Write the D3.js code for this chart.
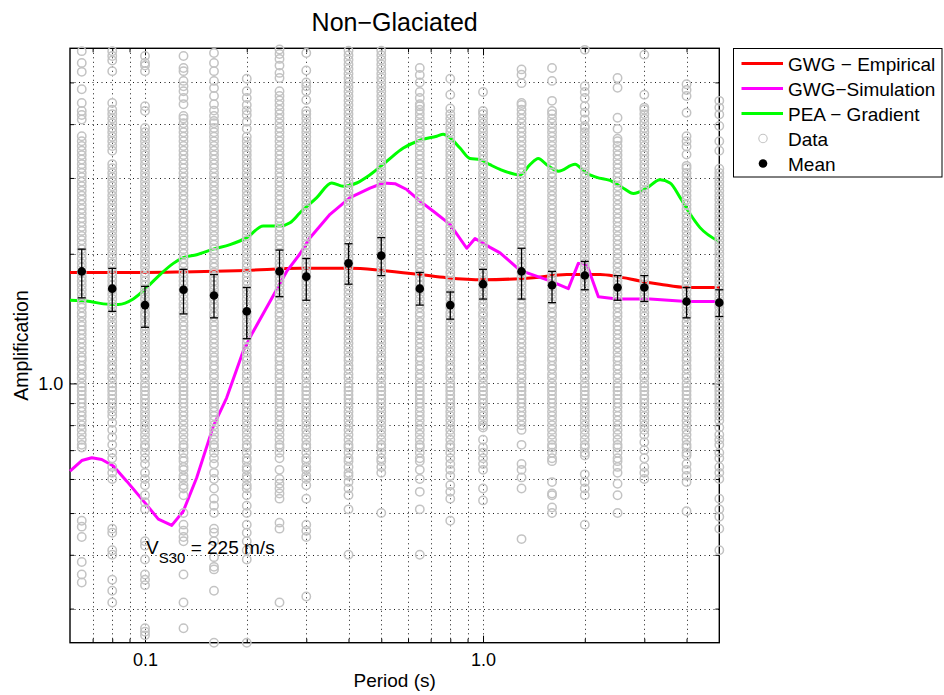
<!DOCTYPE html>
<html><head><meta charset="utf-8">
<script src="https://cdn.jsdelivr.net/npm/d3@7"></script>
<style>
body{margin:0;background:#fff;}
svg{display:block;font-family:"Liberation Sans",Arial,Helvetica,sans-serif;}
</style>
</head><body>
<svg id="chart" width="944" height="695"></svg>
<script>
// ---------- DATA ----------
const periods = [0.065,0.08,0.1,0.13,0.16,0.2,0.25,0.3,0.4,0.5,0.65,0.8,1.0,1.3,1.6,2.0,2.5,3.0,4.0,5.0];
const meanAmp = [1.82,1.66,1.52,1.65,1.60,1.47,1.82,1.77,1.90,1.98,1.66,1.52,1.70,1.82,1.69,1.78,1.67,1.67,1.55,1.54];
const errLow  = [1.58,1.47,1.35,1.45,1.42,1.27,1.59,1.56,1.70,1.78,1.52,1.41,1.57,1.57,1.54,1.65,1.56,1.55,1.42,1.43];
const errHigh = [2.05,1.85,1.68,1.84,1.79,1.67,2.04,1.95,2.11,2.18,1.81,1.63,1.84,2.06,1.82,1.92,1.78,1.78,1.67,1.65];

const empPeriod = [0.06,0.1,0.13,0.2,0.2875,0.404,0.5,0.651,0.78,1.0,1.41,1.77,2.22,2.5,2.91,3.34,4.0,5.0];
const empAmp    = [1.81,1.81,1.815,1.83,1.85,1.85,1.83,1.79,1.76,1.74,1.76,1.79,1.79,1.77,1.73,1.70,1.67,1.67];

const simPeriod = [0.06,0.065,0.0696,0.0745,0.0806,0.0883,0.1,0.1095,0.12,0.1298,0.1422,0.1593,0.1744,0.1953,0.2068,0.2343,0.2625,0.2875,0.3078,0.3527,0.404,0.4631,0.507,0.549,0.5947,0.651,0.7129,0.7989,0.895,0.947,1.049,1.123,1.287,1.578,1.788,1.914,2.027,2.194,2.487,3.12,4.005,4.97];
const simAmp    = [0.626,0.662,0.672,0.666,0.643,0.593,0.528,0.484,0.468,0.505,0.604,0.796,0.926,1.19,1.30,1.55,1.82,2.0,2.18,2.47,2.70,2.84,2.92,2.91,2.82,2.65,2.51,2.34,2.06,2.17,2.07,2.01,1.83,1.73,1.66,1.90,1.89,1.59,1.57,1.57,1.55,1.55];

const peaPeriod = [0.06,0.0688,0.0753,0.0834,0.0923,0.1012,0.1108,0.1213,0.1298,0.1422,0.1593,0.1785,0.2,0.2239,0.2507,0.2685,0.2875,0.3222,0.3567,0.3861,0.4229,0.4631,0.519,0.581,0.651,0.7295,0.763,0.7989,0.855,0.915,0.98,1.049,1.123,1.287,1.377,1.457,1.543,1.671,1.872,2.003,2.17,2.375,2.601,2.785,3.05,3.34,3.575,3.83,4.05,4.385,4.97];
const peaAmp    = [1.56,1.55,1.53,1.525,1.57,1.67,1.79,1.90,1.96,1.99,2.05,2.10,2.18,2.32,2.32,2.36,2.49,2.70,2.92,2.87,2.92,3.05,3.28,3.52,3.67,3.75,3.79,3.72,3.52,3.33,3.31,3.22,3.14,3.05,3.22,3.33,3.22,3.11,3.23,3.09,3.01,2.96,2.84,2.76,2.84,2.97,2.92,2.70,2.51,2.30,2.14];

// observed amplifications, one array per period column
const amp_T0065 = [0.345,0.36,0.385,0.44,0.465,0.48,0.71,0.72,0.74,0.76,0.78,0.80,0.82,0.84,0.86,0.88,0.90,0.92,0.94,0.96,0.98,1.00,1.03,1.05,1.08,1.10,1.13,1.15,1.18,1.21,1.24,1.27,1.30,1.33,1.36,1.39,1.43,1.46,1.50,1.53,1.57,1.61,1.65,1.69,1.73,1.77,1.81,1.86,1.90,1.95,2.00,2.05,2.10,2.15,2.20,2.26,2.31,2.37,2.42,2.48,2.54,2.60,2.67,2.73,2.80,2.87,2.94,3.01,3.08,3.16,3.23,3.31,3.39,3.47,3.56,3.65,3.75,4.10,4.20,4.29,4.48,4.82,5.29,5.55,5.91];
const amp_T008 = [0.31,0.33,0.35,0.40,0.41,0.45,0.46,0.60,0.62,0.64,0.67,0.69,0.72,0.75,0.78,0.81,0.84,0.86,0.88,0.90,0.92,0.94,0.96,0.98,1.00,1.03,1.05,1.08,1.10,1.13,1.15,1.18,1.21,1.24,1.27,1.30,1.33,1.36,1.39,1.43,1.46,1.50,1.53,1.57,1.61,1.65,1.69,1.73,1.77,1.81,1.86,1.90,1.95,2.00,2.05,2.10,2.15,2.20,2.26,2.31,2.37,2.42,2.48,2.54,2.60,2.67,2.73,2.80,2.87,2.94,3.01,3.08,3.16,3.23,3.47,3.56,3.65,3.74,3.83,3.92,4.02,4.12,4.22,4.32,4.48,5.31,5.62,5.76,5.91];
const amp_T010 = [0.26,0.265,0.27,0.34,0.35,0.36,0.39,0.42,0.43,0.51,0.53,0.55,0.58,0.60,0.62,0.65,0.67,0.69,0.71,0.72,0.74,0.76,0.78,0.80,0.82,0.84,0.86,0.88,0.90,0.92,0.94,0.96,0.98,1.00,1.03,1.05,1.08,1.10,1.13,1.15,1.18,1.21,1.24,1.27,1.30,1.33,1.36,1.39,1.43,1.46,1.50,1.53,1.57,1.61,1.65,1.69,1.73,1.77,1.81,1.86,1.90,1.95,2.00,2.05,2.10,2.15,2.20,2.26,2.31,2.37,2.42,2.48,2.54,2.60,2.67,2.73,2.80,2.87,2.94,3.01,3.08,3.16,3.23,3.31,3.39,3.47,3.56,3.65,3.74,3.83,3.92,4.29,4.40,5.31,5.47,5.55,5.76];
const amp_T013 = [0.27,0.31,0.36,0.43,0.44,0.455,0.47,0.50,0.55,0.57,0.58,0.60,0.61,0.63,0.64,0.66,0.67,0.69,0.71,0.72,0.74,0.76,0.78,0.80,0.82,0.84,0.86,0.88,0.90,0.92,0.94,0.96,0.98,1.00,1.03,1.05,1.08,1.10,1.13,1.15,1.18,1.21,1.24,1.27,1.30,1.33,1.36,1.39,1.43,1.46,1.50,1.53,1.57,1.61,1.65,1.69,1.73,1.77,1.81,1.86,1.90,1.95,2.00,2.05,2.10,2.15,2.20,2.26,2.31,2.37,2.42,2.48,2.54,2.60,2.67,2.73,2.80,2.87,2.94,3.01,3.08,3.16,3.23,3.31,3.39,3.47,3.56,3.65,3.74,3.83,3.92,4.02,4.12,4.18,4.45,4.60,4.77,4.90,5.04,5.31,5.40,5.76];
const amp_T016 = [0.25,0.33,0.37,0.375,0.395,0.43,0.45,0.46,0.50,0.52,0.54,0.57,0.60,0.62,0.65,0.67,0.69,0.71,0.72,0.74,0.76,0.78,0.80,0.82,0.84,0.86,0.88,0.90,0.92,0.94,0.96,0.98,1.00,1.03,1.05,1.08,1.10,1.13,1.15,1.18,1.21,1.24,1.27,1.30,1.33,1.36,1.39,1.43,1.46,1.50,1.53,1.57,1.61,1.65,1.69,1.73,1.77,1.81,1.86,1.90,1.95,2.00,2.05,2.10,2.15,2.20,2.26,2.31,2.37,2.42,2.48,2.54,2.60,2.67,2.73,2.80,2.87,2.94,3.01,3.08,3.16,3.23,3.31,3.39,3.47,3.56,3.65,3.74,3.83,3.92,4.02,4.07,4.18,4.30,4.45,4.65,4.85,5.04,5.31,5.55,5.85];
const amp_T020 = [0.25,0.39,0.41,0.43,0.45,0.47,0.50,0.52,0.55,0.57,0.58,0.60,0.61,0.63,0.64,0.66,0.67,0.69,0.71,0.72,0.74,0.76,0.78,0.80,0.82,0.84,0.86,0.88,0.90,0.92,0.94,0.96,0.98,1.00,1.03,1.05,1.08,1.10,1.13,1.15,1.18,1.21,1.24,1.27,1.30,1.33,1.36,1.39,1.43,1.46,1.50,1.53,1.57,1.61,1.65,1.69,1.73,1.77,1.81,1.86,1.90,1.95,2.00,2.05,2.10,2.15,2.20,2.26,2.31,2.37,2.42,2.48,2.54,2.60,2.67,2.73,2.80,2.87,2.94,3.01,3.08,3.16,3.23,3.31,3.39,3.47,3.56,3.65,3.74,3.90,4.05,4.20,4.30,4.43,4.60,4.77,5.10];
const amp_T025 = [0.31,0.46,0.475,0.54,0.555,0.57,0.585,0.60,0.63,0.67,0.69,0.71,0.72,0.74,0.76,0.78,0.80,0.82,0.84,0.86,0.88,0.90,0.92,0.94,0.96,0.98,1.00,1.03,1.05,1.08,1.10,1.13,1.15,1.18,1.21,1.24,1.27,1.30,1.33,1.36,1.39,1.43,1.46,1.50,1.53,1.57,1.61,1.65,1.69,1.73,1.77,1.81,1.86,1.90,1.95,2.00,2.05,2.10,2.15,2.20,2.26,2.31,2.37,2.42,2.48,2.54,2.60,2.67,2.73,2.80,2.87,2.94,3.01,3.08,3.16,3.23,3.31,3.39,3.47,3.56,3.65,3.74,3.83,3.92,4.02,4.12,4.22,4.32,4.43,4.54,4.65,4.77,5.12,5.26,5.47,5.67,5.82,5.96];
const amp_T030 = [0.32,0.44,0.455,0.47,0.54,0.58,0.60,0.61,0.63,0.64,0.66,0.67,0.69,0.71,0.72,0.74,0.76,0.78,0.80,0.82,0.84,0.86,0.88,0.90,0.92,0.94,0.96,0.98,1.00,1.03,1.05,1.08,1.10,1.13,1.15,1.18,1.21,1.24,1.27,1.30,1.33,1.36,1.39,1.43,1.46,1.50,1.53,1.57,1.61,1.65,1.69,1.73,1.77,1.81,1.86,1.90,1.95,2.00,2.05,2.10,2.15,2.20,2.26,2.31,2.37,2.42,2.48,2.54,2.60,2.67,2.73,2.80,2.87,2.94,3.01,3.08,3.16,3.23,3.31,3.39,3.47,3.56,3.65,3.74,3.83,3.92,4.02,4.12,4.22,4.29,4.55,4.77,4.90,5.00,5.33,5.85];
const amp_T040 = [0.40,0.51,0.55,0.57,0.59,0.61,0.62,0.64,0.66,0.67,0.69,0.71,0.72,0.74,0.76,0.78,0.80,0.82,0.84,0.86,0.88,0.90,0.92,0.94,0.96,0.98,1.00,1.03,1.05,1.08,1.10,1.13,1.15,1.18,1.21,1.24,1.27,1.30,1.33,1.36,1.39,1.43,1.46,1.50,1.53,1.57,1.61,1.65,1.69,1.73,1.77,1.81,1.86,1.90,1.95,2.00,2.05,2.10,2.15,2.20,2.26,2.31,2.37,2.42,2.48,2.54,2.60,2.67,2.73,2.80,2.87,2.94,3.01,3.08,3.16,3.23,3.31,3.39,3.47,3.56,3.65,3.74,3.83,3.92,4.02,4.12,4.22,4.32,4.43,4.54,4.65,4.76,4.88,5.00,5.12,5.24,5.37,5.50,5.64,5.78,5.92];
const amp_T050 = [0.50,0.62,0.64,0.66,0.67,0.69,0.71,0.72,0.74,0.76,0.78,0.80,0.82,0.84,0.86,0.88,0.90,0.92,0.94,0.96,0.98,1.00,1.03,1.05,1.08,1.10,1.13,1.15,1.18,1.21,1.24,1.27,1.30,1.33,1.36,1.39,1.43,1.46,1.50,1.53,1.57,1.61,1.65,1.69,1.73,1.77,1.81,1.86,1.90,1.95,2.00,2.05,2.10,2.15,2.20,2.26,2.31,2.37,2.42,2.48,2.54,2.60,2.67,2.73,2.80,2.87,2.94,3.01,3.08,3.16,3.23,3.31,3.39,3.47,3.56,3.65,3.74,3.83,3.92,4.02,4.12,4.22,4.32,4.43,4.54,4.65,4.76,4.88,5.00,5.12,5.24,5.37,5.50,5.64,5.78,5.92];
const amp_T065 = [0.40,0.51,0.56,0.60,0.63,0.66,0.67,0.69,0.71,0.72,0.74,0.76,0.78,0.80,0.82,0.84,0.86,0.88,0.90,0.92,0.94,0.96,0.98,1.00,1.03,1.05,1.08,1.10,1.13,1.15,1.18,1.21,1.24,1.27,1.30,1.33,1.36,1.39,1.43,1.46,1.50,1.53,1.57,1.61,1.65,1.69,1.73,1.77,1.81,1.86,1.90,1.95,2.00,2.05,2.10,2.15,2.20,2.26,2.31,2.37,2.42,2.48,2.54,2.60,2.67,2.73,2.80,2.87,2.94,3.01,3.08,3.16,3.23,3.31,3.39,3.47,3.56,3.65,3.74,3.83,3.92,4.02,4.12,4.22,4.32,4.40,4.45,4.60,4.75,5.00,5.20,5.40];
const amp_T080 = [0.48,0.54,0.56,0.58,0.61,0.63,0.65,0.67,0.69,0.71,0.72,0.74,0.76,0.78,0.80,0.82,0.84,0.86,0.88,0.90,0.92,0.94,0.96,0.98,1.00,1.03,1.05,1.08,1.10,1.13,1.15,1.18,1.21,1.24,1.27,1.30,1.33,1.36,1.39,1.43,1.46,1.50,1.53,1.57,1.61,1.65,1.69,1.73,1.77,1.81,1.86,1.90,1.95,2.00,2.05,2.10,2.15,2.20,2.26,2.31,2.37,2.42,2.48,2.54,2.60,2.67,2.73,2.80,2.87,2.94,3.01,3.08,3.16,3.23,3.31,3.39,3.47,3.56,3.65,3.74,3.83,3.92,4.02,4.12,4.22,4.35,4.68,5.10];
const amp_T100 = [0.535,0.57,0.63,0.65,0.67,0.69,0.71,0.74,0.79,0.80,0.82,0.84,0.86,0.88,0.90,0.92,0.94,0.96,0.98,1.00,1.03,1.05,1.08,1.10,1.13,1.15,1.18,1.21,1.24,1.27,1.30,1.33,1.36,1.39,1.43,1.46,1.50,1.53,1.57,1.61,1.65,1.69,1.73,1.77,1.81,1.86,1.90,1.95,2.00,2.05,2.10,2.15,2.20,2.26,2.31,2.37,2.42,2.48,2.54,2.60,2.67,2.73,2.80,2.87,2.94,3.01,3.08,3.16,3.23,3.31,3.39,3.47,3.56,3.65,3.74,3.83,3.92,4.02,4.12,4.22,4.29,4.75];
const amp_T130 = [0.435,0.57,0.605,0.63,0.65,0.72,0.78,0.80,0.82,0.84,0.86,0.88,0.90,0.92,0.94,0.96,0.98,1.00,1.03,1.05,1.08,1.10,1.13,1.15,1.18,1.21,1.24,1.27,1.30,1.33,1.36,1.39,1.43,1.46,1.50,1.53,1.57,1.61,1.65,1.69,1.73,1.77,1.81,1.86,1.90,1.95,2.00,2.05,2.10,2.15,2.20,2.26,2.31,2.37,2.42,2.48,2.54,2.60,2.67,2.73,2.80,2.87,2.94,3.01,3.08,3.16,3.23,3.31,3.39,3.47,3.56,3.65,3.74,3.83,3.92,4.02,4.12,4.22,4.32,4.43,4.48,4.98,5.21,5.36];
const amp_T160 = [0.50,0.515,0.55,0.555,0.59,0.66,0.67,0.69,0.71,0.72,0.74,0.76,0.78,0.80,0.82,0.84,0.86,0.88,0.90,0.92,0.94,0.96,0.98,1.00,1.03,1.05,1.08,1.10,1.13,1.15,1.18,1.21,1.24,1.27,1.30,1.33,1.36,1.39,1.43,1.46,1.50,1.53,1.57,1.61,1.65,1.69,1.73,1.77,1.81,1.86,1.90,1.95,2.00,2.05,2.10,2.15,2.20,2.26,2.31,2.37,2.42,2.48,2.54,2.60,2.67,2.73,2.80,2.87,2.94,3.01,3.08,3.16,3.23,3.31,3.39,3.47,3.56,3.65,3.74,3.83,3.92,4.02,4.12,4.22,4.29,4.53,5.04,5.40];
const amp_T200 = [0.47,0.55,0.57,0.59,0.615,0.68,0.69,0.71,0.72,0.74,0.76,0.78,0.80,0.82,0.84,0.86,0.88,0.90,0.92,0.94,0.96,0.98,1.00,1.03,1.05,1.08,1.10,1.13,1.15,1.18,1.21,1.24,1.27,1.30,1.33,1.36,1.39,1.43,1.46,1.50,1.53,1.57,1.61,1.65,1.69,1.73,1.77,1.81,1.86,1.90,1.95,2.00,2.05,2.10,2.15,2.20,2.26,2.31,2.37,2.42,2.48,2.54,2.60,2.67,2.73,2.80,2.87,2.94,3.01,3.08,3.16,3.23,3.31,3.39,3.47,3.56,3.65,3.74,3.83,3.92,3.96,4.10,4.25,4.40,4.60,4.75,4.90,5.95];
const amp_T250 = [0.50,0.55,0.585,0.62,0.64,0.66,0.67,0.69,0.71,0.72,0.74,0.76,0.78,0.80,0.82,0.84,0.86,0.88,0.90,0.92,0.94,0.96,0.98,1.00,1.03,1.05,1.08,1.10,1.13,1.15,1.18,1.21,1.24,1.27,1.30,1.33,1.36,1.39,1.43,1.46,1.50,1.53,1.57,1.61,1.65,1.69,1.73,1.77,1.81,1.86,1.90,1.95,2.00,2.05,2.10,2.15,2.20,2.26,2.31,2.37,2.42,2.48,2.54,2.60,2.67,2.73,2.80,2.87,2.94,3.01,3.08,3.16,3.23,3.31,3.39,3.47,3.56,3.65,3.70,3.90,4.14,4.86,5.12];
const amp_T300 = [0.60,0.62,0.64,0.67,0.70,0.73,0.76,0.78,0.80,0.82,0.84,0.86,0.88,0.90,0.92,0.94,0.96,0.98,1.00,1.03,1.05,1.08,1.10,1.13,1.15,1.18,1.21,1.24,1.27,1.30,1.33,1.36,1.39,1.43,1.46,1.50,1.53,1.57,1.61,1.65,1.69,1.73,1.77,1.81,1.86,1.90,1.95,2.00,2.05,2.10,2.15,2.20,2.26,2.31,2.37,2.42,2.48,2.54,2.60,2.67,2.73,2.80,2.87,2.94,3.01,3.08,3.16,3.23,3.31,3.39,3.47,3.56,3.65,3.74,3.83,3.92,4.02,4.12,4.22,4.32,4.37,4.68,5.80];
const amp_T400 = [0.505,0.59,0.61,0.63,0.65,0.68,0.69,0.71,0.72,0.74,0.76,0.78,0.80,0.82,0.84,0.86,0.88,0.90,0.92,0.94,0.96,0.98,1.00,1.03,1.05,1.08,1.10,1.13,1.15,1.18,1.21,1.24,1.27,1.30,1.33,1.36,1.39,1.43,1.46,1.50,1.53,1.57,1.61,1.65,1.69,1.73,1.77,1.81,1.86,1.90,1.95,2.00,2.05,2.10,2.15,2.20,2.26,2.31,2.37,2.42,2.48,2.54,2.60,2.67,2.73,2.80,2.87,2.94,3.01,3.08,3.16,3.20,3.40,3.55,3.65,3.75,4.25,4.65,4.80,4.95];
const amp_T500 = [0.41,0.46,0.49,0.51,0.54,0.60,0.62,0.64,0.67,0.69,0.72,0.74,0.76,0.79,0.82,0.84,0.86,0.88,0.90,0.92,0.94,0.96,0.98,1.00,1.03,1.05,1.08,1.10,1.13,1.15,1.18,1.21,1.24,1.27,1.30,1.33,1.36,1.39,1.43,1.46,1.50,1.53,1.57,1.61,1.65,1.69,1.73,1.77,1.81,1.86,1.90,1.95,2.00,2.05,2.10,2.15,2.20,2.26,2.31,2.37,2.42,2.48,2.54,2.60,2.67,2.73,2.80,2.87,2.94,3.01,3.08,3.15,3.47,3.65,3.96,4.21,4.37,4.53];

const dataColumns = [amp_T0065,amp_T008,amp_T010,amp_T013,amp_T016,amp_T020,amp_T025,amp_T030,amp_T040,amp_T050,amp_T065,amp_T080,amp_T100,amp_T130,amp_T160,amp_T200,amp_T250,amp_T300,amp_T400,amp_T500];

const xMinorTicks = [0.07,0.08,0.09,0.2,0.3,0.4,0.5,0.6,0.7,0.8,0.9,2,3,4];
const xMajorTicks = [0.1,1];
const xTickLabels = ["0.1","1.0"];
const yMinorTicks = [0.3,0.4,0.5,0.6,0.7,0.8,0.9,2,3,4,5];
const yMajorTicks = [1];
const yTickLabels = ["1.0"];

const legendLabels = ["GWG \u2212 Empirical","GWG\u2212Simulation","PEA \u2212 Gradient","Data","Mean"];

// ---------- CHART ----------
const svg = d3.select("#chart");
const L = 70, R = 719.3, T = 48.3, B = 642.7;
const x = d3.scaleLog().domain([0.06, 5]).range([L, R]);
const y = d3.scaleLog().domain([0.25, 6]).range([B, T]);
const DATA_GREY = "#c3c3c3";

// grid
const grid = svg.append("g").attr("stroke","#000").attr("stroke-width",0.9).attr("stroke-dasharray","1,3.5");
xMinorTicks.concat(xMajorTicks).forEach(v => {
  const px = Math.round(x(v)) + 0.5;
  grid.append("line").attr("x1",px).attr("x2",px).attr("y1",T).attr("y2",B);
});
yMinorTicks.concat(yMajorTicks).forEach(v => {
  const py = Math.round(y(v)) + 0.5;
  grid.append("line").attr("x1",L).attr("x2",R).attr("y1",py).attr("y2",py);
});

// box
svg.append("rect").attr("x",L).attr("y",T).attr("width",R-L).attr("height",B-T)
  .attr("fill","none").attr("stroke","#000").attr("stroke-width",1.4);

// axes ticks (inward)
function styleAxis(g){ g.select(".domain").remove(); g.selectAll("line").attr("stroke","#000").attr("stroke-width",1); }
svg.append("g").attr("transform",`translate(0,${B})`)
  .call(d3.axisBottom(x).tickValues(xMinorTicks).tickSize(-4).tickFormat(""))
  .call(styleAxis);
svg.append("g").attr("transform",`translate(0,${B})`)
  .call(d3.axisBottom(x).tickValues(xMajorTicks).tickSize(-7).tickPadding(10.5).tickFormat((d,i)=>xTickLabels[i]))
  .call(styleAxis)
  .selectAll("text").attr("font-size","18px").attr("fill","#000").attr("font-family","Liberation Sans, Arial, sans-serif");
svg.append("g").attr("transform",`translate(0,${T})`)
  .call(d3.axisTop(x).tickValues(xMinorTicks).tickSize(-4).tickFormat("")).call(styleAxis);
svg.append("g").attr("transform",`translate(0,${T})`)
  .call(d3.axisTop(x).tickValues(xMajorTicks).tickSize(-7).tickFormat("")).call(styleAxis);
svg.append("g").attr("transform",`translate(${L},0)`)
  .call(d3.axisLeft(y).tickValues(yMinorTicks).tickSize(-4).tickFormat("")).call(styleAxis);
svg.append("g").attr("transform",`translate(${L},0)`)
  .call(d3.axisLeft(y).tickValues(yMajorTicks).tickSize(-7).tickPadding(6.7).tickFormat((d,i)=>yTickLabels[i]))
  .call(styleAxis)
  .selectAll("text").attr("font-size","18px").attr("fill","#000").attr("font-family","Liberation Sans, Arial, sans-serif");
svg.append("g").attr("transform",`translate(${R},0)`)
  .call(d3.axisRight(y).tickValues(yMinorTicks).tickSize(-4).tickFormat("")).call(styleAxis);
svg.append("g").attr("transform",`translate(${R},0)`)
  .call(d3.axisRight(y).tickValues(yMajorTicks).tickSize(-7).tickFormat("")).call(styleAxis);

// model curves
const lineSmooth = d3.line().x(d=>x(d[0])).y(d=>y(d[1])).curve(d3.curveMonotoneX);
const lineLinear = d3.line().x(d=>x(d[0])).y(d=>y(d[1]));
svg.append("path").datum(d3.zip(empPeriod, empAmp)).attr("d", lineSmooth)
  .attr("fill","none").attr("stroke","#ff0000").attr("stroke-width",3);
svg.append("path").datum(d3.zip(simPeriod, simAmp)).attr("d", lineLinear)
  .attr("fill","none").attr("stroke","#ff00ff").attr("stroke-width",3).attr("stroke-linejoin","round");
svg.append("path").datum(d3.zip(peaPeriod, peaAmp)).attr("d", lineSmooth)
  .attr("fill","none").attr("stroke","#00ff00").attr("stroke-width",3);

// data circles
const dataG = svg.append("g").attr("fill","none").attr("stroke",DATA_GREY).attr("stroke-width",1.5);
dataColumns.forEach((col, i) => {
  dataG.selectAll(null).data(col).enter().append("circle")
    .attr("cx", x(periods[i])).attr("cy", d => y(d)).attr("r", 4.2);
});

// means with error bars
const meanG = svg.append("g");
periods.forEach((p, i) => {
  const px = x(p);
  meanG.append("line").attr("x1",px).attr("x2",px).attr("y1",y(errLow[i])).attr("y2",y(errHigh[i]))
    .attr("stroke","#000").attr("stroke-width",1.3);
  [errLow[i], errHigh[i]].forEach(v => {
    meanG.append("line").attr("x1",px-4).attr("x2",px+4).attr("y1",y(v)).attr("y2",y(v))
      .attr("stroke","#000").attr("stroke-width",1.3);
  });
  meanG.append("circle").attr("cx",px).attr("cy",y(meanAmp[i])).attr("r",4.3).attr("fill","#000");
});

// title & labels
svg.append("text").attr("x",(L+R)/2).attr("y",30.7).attr("text-anchor","middle")
  .attr("font-size","25px").attr("fill","#000").text("Non\u2212Glaciated");
svg.append("text").attr("x",(L+R)/2).attr("y",687.3).attr("text-anchor","middle")
  .attr("font-size","19px").attr("fill","#000").text("Period (s)");
svg.append("text").attr("transform",`translate(28,${(T+B)/2}) rotate(-90)`).attr("text-anchor","middle")
  .attr("font-size","19.5px").attr("fill","#000").text("Amplification");

const ann = svg.append("text").attr("x",146).attr("y",554).attr("fill","#000").attr("font-size","19px");
ann.append("tspan").text("V");
ann.append("tspan").attr("font-size","15px").attr("dy",8.5).text("S30");
ann.append("tspan").attr("dy",-8.5).text(" = 225 m/s");

// legend
const lg = svg.append("g");
lg.append("rect").attr("x",733.5).attr("y",48.5).attr("width",208.5).attr("height",128.5)
  .attr("fill","#fff").attr("stroke","#000").attr("stroke-width",1);
const lgColors = ["#ff0000","#ff00ff","#00ff00"];
legendLabels.forEach((lab, i) => {
  const cy = 63.5 + i*25;
  if (i < 3) {
    lg.append("line").attr("x1",741.5).attr("x2",783).attr("y1",cy).attr("y2",cy)
      .attr("stroke",lgColors[i]).attr("stroke-width",3);
  } else if (i === 3) {
    lg.append("circle").attr("cx",763).attr("cy",cy).attr("r",4.2).attr("fill","none")
      .attr("stroke",DATA_GREY).attr("stroke-width",1.1);
  } else {
    lg.append("circle").attr("cx",763).attr("cy",cy).attr("r",4.3).attr("fill","#000");
  }
  lg.append("text").attr("x",788).attr("y",cy+7).attr("font-size","19px").attr("fill","#000").text(lab);
});
</script>
</body></html>
